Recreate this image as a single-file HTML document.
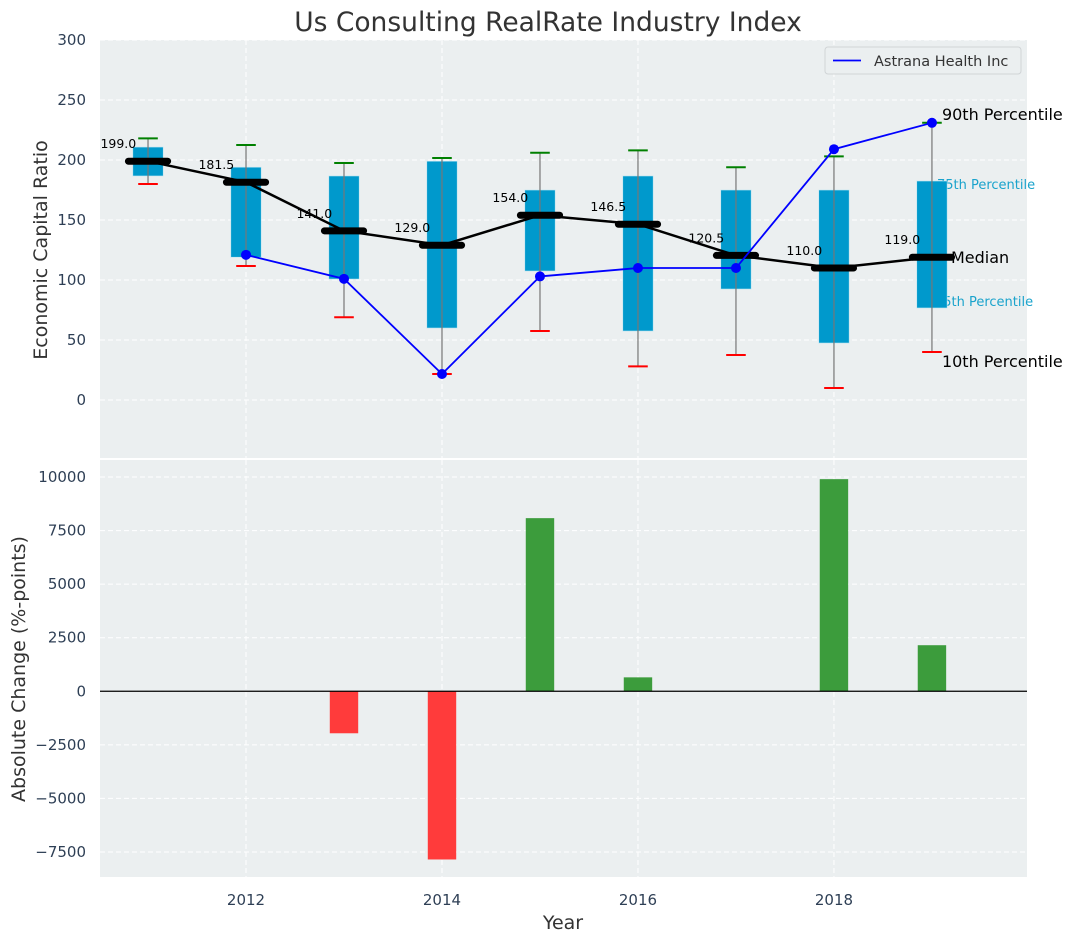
<!DOCTYPE html>
<html><head><meta charset="utf-8"><style>
body{margin:0;background:#fff;}
svg{display:block;font-family:"DejaVu Sans","Liberation Sans",sans-serif;}
</style></head><body>
<svg id="chart" width="1077" height="942" xmlns="http://www.w3.org/2000/svg"></svg>
<script>
const years=[2011,2012,2013,2014,2015,2016,2017,2018,2019];
const p10=[180,111.7,69,21.7,57.5,28,37.5,10,40];
const q1=[186.7,119,100.8,60,107.5,57.5,92.5,47.5,76.7];
const medians=[199,181.5,141,129,154,146.5,120.5,110,119];
const q3=[210.8,194,186.7,199,175,186.7,175,175,182.5];
const p90=[218,212.5,197.5,201.7,206,208,194,203,231];
const astYears=[2012,2013,2014,2015,2016,2017,2018,2019];
const astVals=[121,101,21.7,103,110,110,209,231];
const barYears=[2013,2014,2015,2016,2018,2019];
const barVals=[-1960,-7850,8080,650,9900,2150];
const topTicks=[0,50,100,150,200,250,300];
const botTicks=[-7500,-5000,-2500,0,2500,5000,7500,10000];
const xTicks=[2012,2014,2016,2018];

const NS="http://www.w3.org/2000/svg";
const svg=document.getElementById('chart');
function el(t,a,parent){const e=document.createElementNS(NS,t);for(const k in a)e.setAttribute(k,a[k]);(parent||svg).appendChild(e);return e;}
const L=100,R=1027,X0=2010.51,X1=2019.97;
const sx=v=>L+(v-X0)/(X1-X0)*(R-L);
const T1=40,B1=458,Y1a=-48.3,Y1b=300;
const sy1=v=>B1-(v-Y1a)/(Y1b-Y1a)*(B1-T1);
const T2=460,B2=877,Y2a=-8668,Y2b=10794;
const sy2=v=>B2-(v-Y2a)/(Y2b-Y2a)*(B2-T2);
const tc='#2e3f55';

let e;
e=el('rect',{x:L,y:T1,width:R-L,height:B1-T1,fill:'#ebeff0'});

e=el('rect',{x:L,y:T2,width:R-L,height:B2-T2,fill:'#ebeff0'});


topTicks.forEach(t=>{
  e=el('line',{x1:L,x2:R,y1:sy1(t),y2:sy1(t),stroke:'#fff','stroke-dasharray':'5,3','stroke-width':1});
  
  e=el('text',{x:86,y:sy1(t)+5,'text-anchor':'end','font-size':15,fill:tc});e.textContent=t;
  
});
botTicks.forEach(t=>{
  e=el('line',{x1:L,x2:R,y1:sy2(t),y2:sy2(t),stroke:'#fff','stroke-dasharray':'5,3','stroke-width':1});
  
  e=el('text',{x:86,y:sy2(t)+5,'text-anchor':'end','font-size':15,fill:tc});e.textContent=String(t).replace('-','\u2212');
  
});
xTicks.forEach(t=>{
  e=el('line',{x1:sx(t),x2:sx(t),y1:T1,y2:B1,stroke:'#fff','stroke-dasharray':'5,3'});
  
  e=el('line',{x1:sx(t),x2:sx(t),y1:T2,y2:B2,stroke:'#fff','stroke-dasharray':'5,3'});
  
  e=el('text',{x:sx(t),y:905,'text-anchor':'middle','font-size':15,fill:tc});e.textContent=t;
  
});

const ly=years[years.length-1],li=years.length-1;
[[p90[li],'90th Percentile',16,'#000',sx(ly)+10,-3],[q3[li],'75th Percentile',13,'#1aa3cc',sx(ly)+5,8],[q1[li],'25th Percentile',13,'#1aa3cc',sx(ly)+3,-2],[p10[li],'10th Percentile',16,'#000',sx(ly)+10,15]].forEach(a=>{
  e=el('text',{x:a[4],y:sy1(a[0])+a[5],'font-size':a[2],fill:a[3]});e.textContent=a[1];
  
});

const bw=0.155;
years.forEach((y,i)=>{
  e=el('rect',{x:sx(y-bw),y:sy1(q3[i]),width:sx(y+bw)-sx(y-bw),height:sy1(q1[i])-sy1(q3[i]),fill:'#0099cc',stroke:'#bfe6f2','stroke-width':0.6});
  
  e=el('line',{x1:sx(y),x2:sx(y),y1:sy1(p90[i]),y2:sy1(p10[i]),stroke:'#777','stroke-width':1.2});
  
  e=el('line',{x1:sx(y-0.1),x2:sx(y+0.1),y1:sy1(p90[i]),y2:sy1(p90[i]),stroke:'green','stroke-width':2});
  
  e=el('line',{x1:sx(y-0.1),x2:sx(y+0.1),y1:sy1(p10[i]),y2:sy1(p10[i]),stroke:'red','stroke-width':2});
  
});
e=el('polyline',{points:years.map((y,i)=>sx(y)+','+sy1(medians[i])).join(' '),fill:'none',stroke:'#000','stroke-width':2.5});

years.forEach((y,i)=>{
  e=el('line',{x1:sx(y-0.2),x2:sx(y+0.2),y1:sy1(medians[i]),y2:sy1(medians[i]),stroke:'#000','stroke-width':7,'stroke-linecap':'round'});
  
  e=el('text',{x:sx(y-0.12),y:sy1(medians[i])-13,'text-anchor':'end','font-size':12.5,fill:'#000'});e.textContent=medians[i].toFixed(1);
  
});
e=el('text',{x:sx(ly)+19,y:sy1(medians[li])+6,'font-size':16,fill:'#000'});e.textContent='Median';


e=el('polyline',{points:astYears.map((y,i)=>sx(y)+','+sy1(astVals[i])).join(' '),fill:'none',stroke:'#0000ff','stroke-width':1.8});

astYears.forEach((y,i)=>{
  e=el('circle',{cx:sx(y),cy:sy1(astVals[i]),r:5,fill:'#0000ff'});
  
});

const lg=el('g',{});

el('rect',{x:825,y:47,width:196,height:27,rx:3,fill:'#ebeff0',stroke:'#d0d4d6'},lg);
el('line',{x1:833,x2:861,y1:60.5,y2:60.5,stroke:'#0000ff','stroke-width':1.8},lg);
e=el('text',{x:874,y:66,'font-size':14.5,fill:'#333'},lg);e.textContent='Astrana Health Inc';

barYears.forEach((y,i)=>{
  const v=barVals[i];
  e=el('rect',{x:sx(y-0.145),y:Math.min(sy2(v),sy2(0)),width:sx(y+0.145)-sx(y-0.145),height:Math.abs(sy2(v)-sy2(0)),fill:v>=0?'#3c9c3c':'#ff3b3b'});
  
});
e=el('line',{x1:L,x2:R,y1:sy2(0),y2:sy2(0),stroke:'#000','stroke-width':1.3});


e=el('text',{x:548,y:31,'text-anchor':'middle','font-size':26.5,fill:'#333'});e.textContent='Us Consulting RealRate Industry Index';

e=el('text',{x:0,y:0,'text-anchor':'middle','font-size':19,fill:'#333',transform:'translate(47,250) rotate(-90)'});e.textContent='Economic Capital Ratio';

e=el('text',{x:0,y:0,'text-anchor':'middle','font-size':19,fill:'#333',transform:'translate(25,669) rotate(-90)'});e.textContent='Absolute Change (%-points)';

e=el('text',{x:563,y:929,'text-anchor':'middle','font-size':19,fill:'#333'});e.textContent='Year';

</script>
</body></html>
